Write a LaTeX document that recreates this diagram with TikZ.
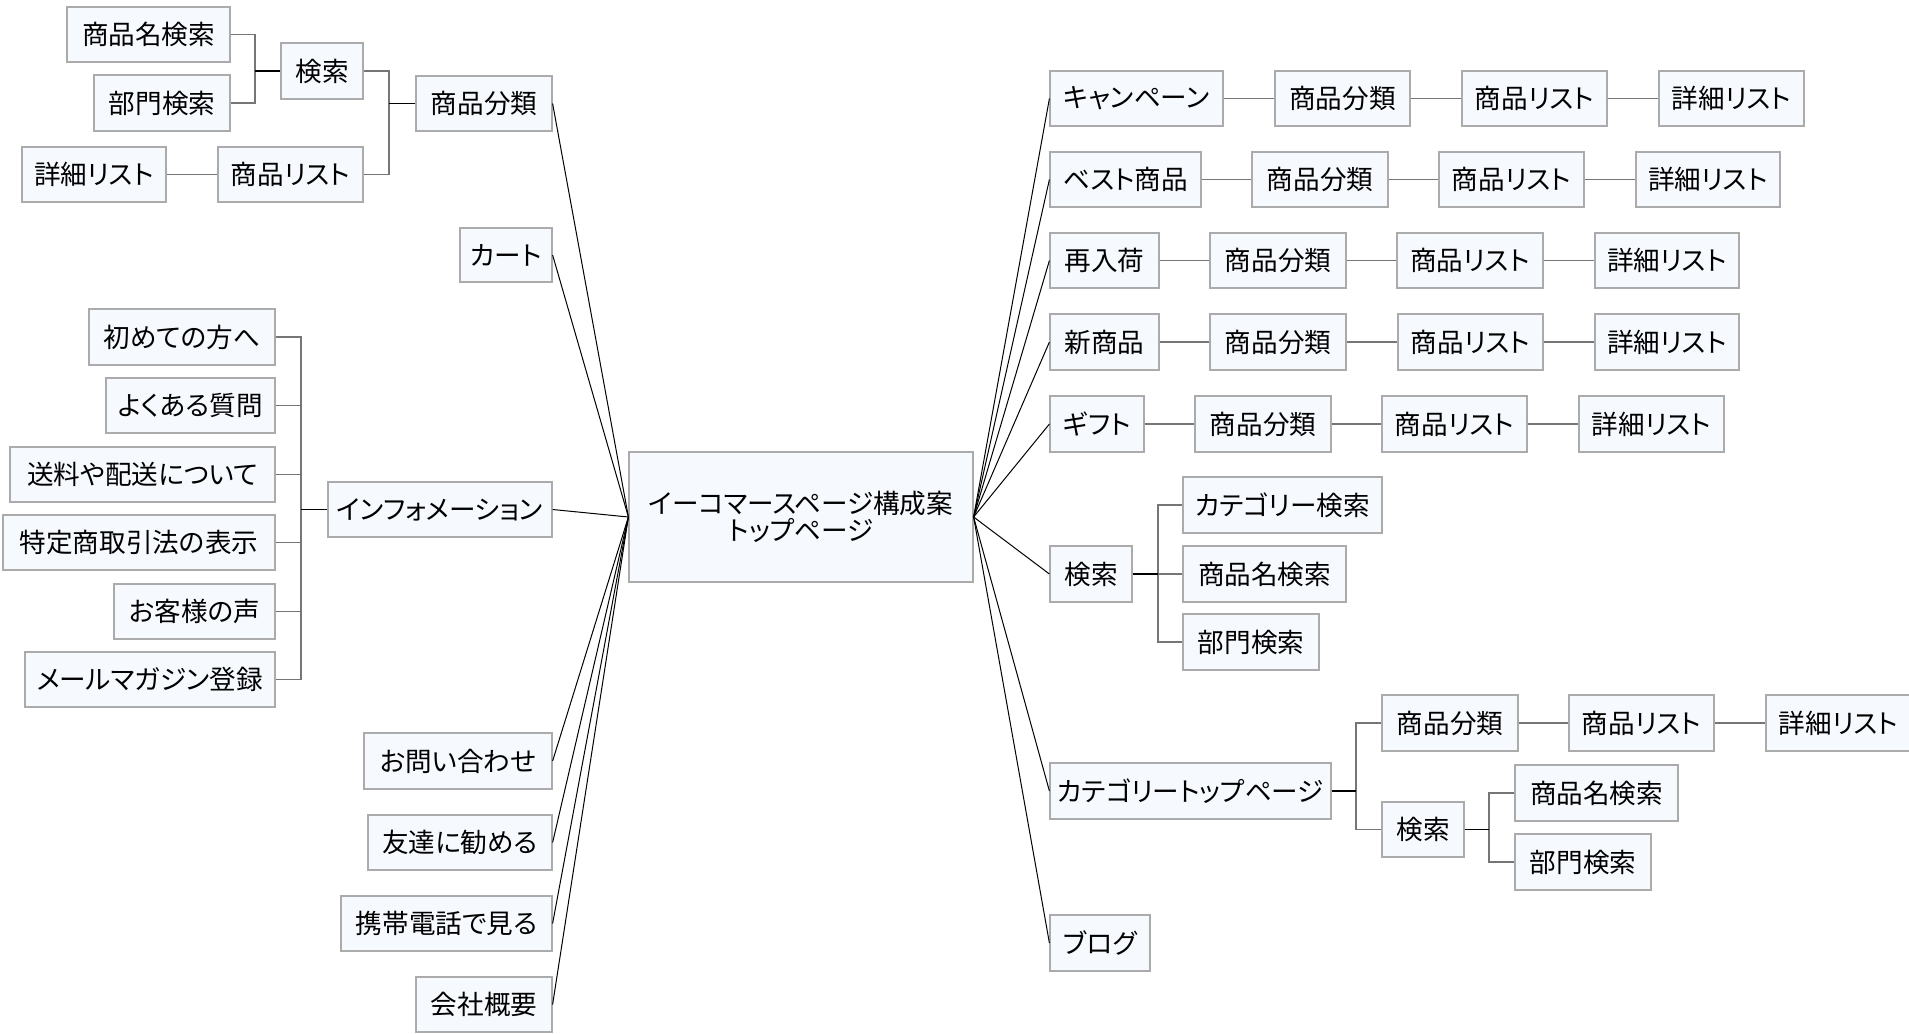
\documentclass[tikz,border=0pt]{standalone}
\usepackage{fontspec}
\newfontfamily\jp[RawFeature=+palt]{Noto Sans CJK JP}
\definecolor{boxfill}{HTML}{F6F9FE}
\definecolor{boxline}{HTML}{ABABAB}
\definecolor{treeline}{HTML}{767676}
\tikzset{
  box/.style={draw=boxline, fill=boxfill, line width=0.6pt, inner sep=0pt,
    font=\jp\fontsize{13.3}{13.6}\selectfont, align=center},
  tree/.style={draw=treeline, line width=0.6pt},
  trunk/.style={draw=black, line width=0.7pt},
  spoke/.style={draw=black, line width=0.5pt}
}
\newcommand\mybox[6]{%
  \node[box, minimum width={(#4-#2)*0.5pt}, minimum height={(#5-#3)*0.5pt}]
    (#1) at ({(#2+#4)/2},{(#3+#5)/2}) {#6};}
\begin{document}
\begin{tikzpicture}[x=0.5pt,y=-0.5pt]
\useasboundingbox (0,0) rectangle (1909,1033);
\fill[white] (0,0) rectangle (1909,1033);

% centre
\mybox{c}{629}{452}{973}{582}{イーコマースページ構成案\\トップページ}

% left side
\mybox{ls1}{416}{76}{552}{131}{商品分類}
\mybox{lsk}{281}{43}{363}{99}{検索}
\mybox{lsk1}{67}{7}{230}{62}{商品名検索}
\mybox{lsk2}{94}{75}{230}{131}{部門検索}
\mybox{lsl}{218}{147}{363}{202}{商品リスト}
\mybox{lsd}{22}{147}{166}{202}{詳細リスト}
\mybox{lcart}{460}{228}{552}{282}{カート}
\mybox{linfo}{328}{482}{552}{537}{インフォメーション}
\mybox{i1}{89}{309}{275}{365}{初めての方へ}
\mybox{i2}{106}{378}{275}{433}{よくある質問}
\mybox{i3}{10}{447}{275}{502}{送料や配送について}
\mybox{i4}{3}{515}{275}{570}{特定商取引法の表示}
\mybox{i5}{114}{584}{275}{639}{お客様の声}
\mybox{i6}{25}{652}{275}{707}{メールマガジン登録}
\mybox{l5}{364}{733}{552}{789}{お問い合わせ}
\mybox{l6}{368}{815}{552}{870}{友達に勧める}
\mybox{l7}{341}{896}{552}{951}{携帯電話で見る}
\mybox{l8}{416}{977}{552}{1032}{会社概要}

% right side
\mybox{r1}{1050}{71}{1223}{126}{キャンペーン}
\mybox{r1a}{1275}{71}{1410}{126}{商品分類}
\mybox{r1b}{1462}{71}{1607}{126}{商品リスト}
\mybox{r1c}{1659}{71}{1804}{126}{詳細リスト}
\mybox{r2}{1050}{152}{1201}{207}{ベスト商品}
\mybox{r2a}{1252}{152}{1388}{207}{商品分類}
\mybox{r2b}{1439}{152}{1584}{207}{商品リスト}
\mybox{r2c}{1636}{152}{1780}{207}{詳細リスト}
\mybox{r3}{1050}{233}{1159}{288}{再入荷}
\mybox{r3a}{1210}{233}{1346}{288}{商品分類}
\mybox{r3b}{1397}{233}{1543}{288}{商品リスト}
\mybox{r3c}{1595}{233}{1739}{288}{詳細リスト}
\mybox{r4}{1050}{314}{1159}{370}{新商品}
\mybox{r4a}{1210}{314}{1346}{370}{商品分類}
\mybox{r4b}{1398}{314}{1543}{370}{商品リスト}
\mybox{r4c}{1595}{314}{1739}{370}{詳細リスト}
\mybox{r5}{1050}{396}{1144}{452}{ギフト}
\mybox{r5a}{1195}{396}{1331}{452}{商品分類}
\mybox{r5b}{1382}{396}{1527}{452}{商品リスト}
\mybox{r5c}{1579}{396}{1724}{452}{詳細リスト}
\mybox{r6}{1050}{546}{1132}{602}{検索}
\mybox{r6a}{1183}{477}{1382}{533}{カテゴリー検索}
\mybox{r6b}{1183}{546}{1346}{602}{商品名検索}
\mybox{r6c}{1183}{614}{1319}{670}{部門検索}
\mybox{r7}{1050}{763}{1331}{819}{カテゴリートップページ}
\mybox{r7a}{1382}{695}{1518}{751}{商品分類}
\mybox{r7b}{1569}{695}{1714}{751}{商品リスト}
\mybox{r7c}{1766}{695}{1911}{751}{詳細リスト}
\mybox{r7d}{1382}{802}{1464}{857}{検索}
\mybox{r7e}{1515}{765}{1678}{821}{商品名検索}
\mybox{r7f}{1515}{834}{1651}{890}{部門検索}
\mybox{r8}{1050}{915}{1150}{971}{ブログ}

% bus points
\coordinate (b1) at (255,71);
\coordinate (b2) at (389,103.5);
\coordinate (b3) at (301,509.5);
\coordinate (b4) at (1158,574);
\coordinate (b5) at (1356,791);
\coordinate (b6) at (1489,829.5);

% left trees
\draw[tree] (lsk1.east) -| (b1) |- (lsk2.east);
\draw[trunk] (b1) -- (lsk.west);
\draw[tree] (lsk.east) -| (b2) |- (lsl.east);
\draw[trunk] (b2) -- (ls1.west);
\draw[tree] (lsd) -- (lsl);
\draw[tree] (i1.east) -| (b3) |- (i6.east);
\foreach \n in {i2,i3,i4,i5} \draw[tree] (\n.east) -- (\n.east -| b3);
\draw[trunk] (b3) -- (linfo.west);

% right chains
\draw[tree] (r1) -- (r1a) -- (r1b) -- (r1c);
\draw[tree] (r2) -- (r2a) -- (r2b) -- (r2c);
\draw[tree] (r3) -- (r3a) -- (r3b) -- (r3c);
\draw[tree] (r4) -- (r4a) -- (r4b) -- (r4c);
\draw[tree] (r5) -- (r5a) -- (r5b) -- (r5c);
\draw[tree] (r7a) -- (r7b) -- (r7c);

% right trees
\draw[tree] (r6a.west) -| (b4) |- (r6c.west);
\draw[tree] (b4) -- (r6b.west);
\draw[trunk] (r6.east) -- (b4);
\draw[tree] (r7a.west) -| (b5) |- (r7d.west);
\draw[trunk] (r7.east) -- (b5);
\draw[tree] (r7e.west) -| (b6) |- (r7f.west);
\draw[trunk] (r7d.east) -- (b6);

% spokes from centre
\foreach \n in {ls1,lcart,linfo,l5,l6,l7,l8} \draw[spoke] (c.west) -- (\n.east);
\foreach \n in {r1,r2,r3,r4,r5,r6,r7,r8} \draw[spoke] (c.east) -- (\n.west);
\end{tikzpicture}
\end{document}
